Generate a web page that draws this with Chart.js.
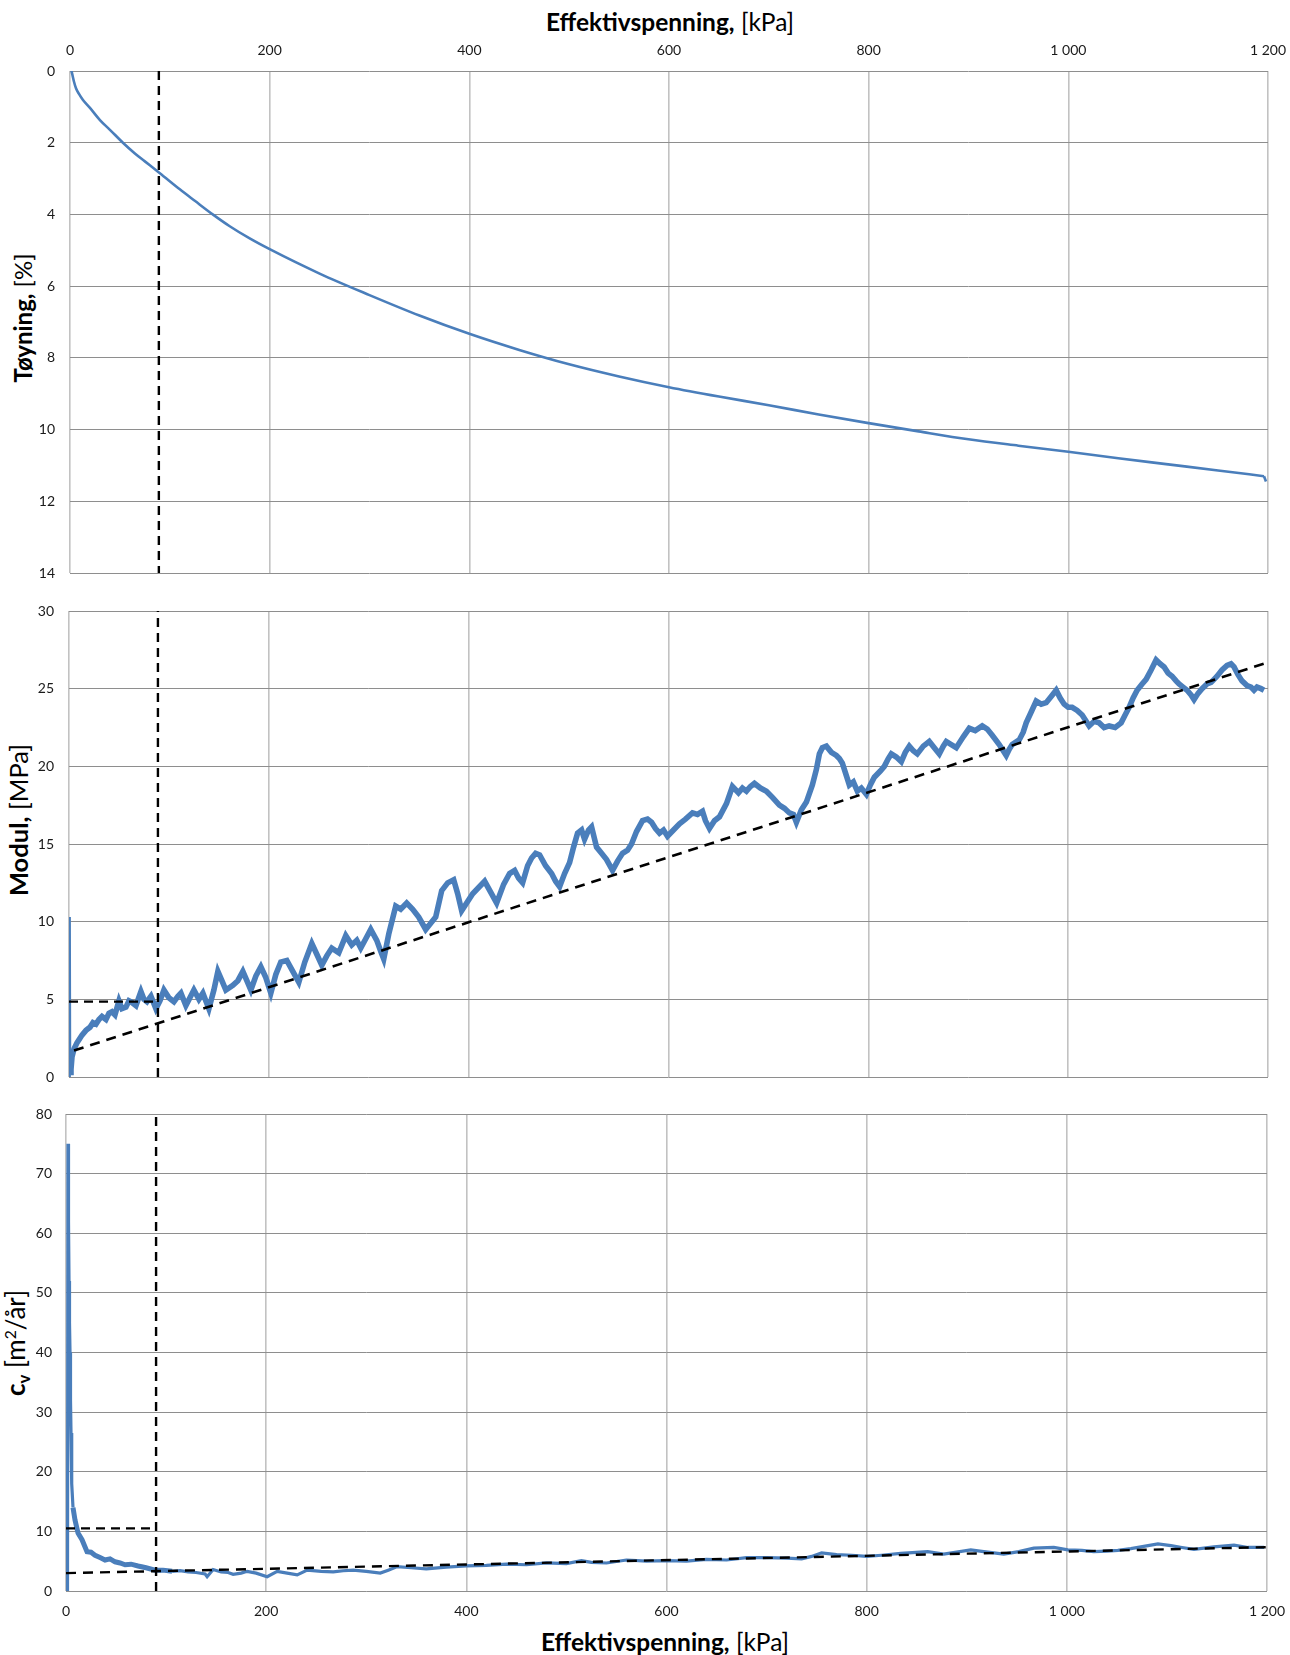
<!DOCTYPE html>
<html>
<head>
<meta charset="utf-8">
<script src="https://cdn.jsdelivr.net/npm/chart.js@4.4.1/dist/chart.umd.min.js"></script>
<style>
  body { margin: 0; background: #fff; font-family: Lato, 'Open Sans', sans-serif; }
  #wrap { position: relative; width: 1290px; height: 1655px; overflow: hidden; }
  canvas { position: absolute; left: 0; }
  .t { position: absolute; white-space: nowrap; color: #000; line-height: 1; font-weight: 400; }
  .t b { font-weight: 700; }
  .rot { transform: translate(-50%, -50%) rotate(-90deg); }
  .hor { transform: translate(-50%, -50%); }
  .t sub { font-size: 65%; vertical-align: -0.3em; font-weight: 700; line-height: 0; }
  .t sup { font-size: 60%; vertical-align: 0.55em; line-height: 0; }
</style>
</head>
<body>
<div id="wrap">
  <div class="t hor" style="left:670px;top:22px;font-size:24.5px"><b>Effektivspenning,</b> [kPa]</div>
  <div class="t rot" style="left:23px;top:318px;font-size:24px"><b>Tøyning,</b> [%]</div>
  <div class="t rot" style="left:19px;top:820px;font-size:25.5px"><b>Modul,</b> [MPa]</div>
  <div class="t rot" style="left:15px;top:1343px;font-size:26px"><b>c<sub>v</sub></b> [m<sup>2</sup>/år]</div>
  <div class="t hor" style="left:665px;top:1642px;font-size:24.5px"><b>Effektivspenning,</b> [kPa]</div>
  <canvas id="c1" width="1290" height="580" style="top:0"></canvas>
  <canvas id="c2" width="1290" height="500" style="top:585px"></canvas>
  <canvas id="c3" width="1290" height="560" style="top:1095px"></canvas>
</div>
<script>
// ---- data ----
var xTickLabels = ['0', '200', '400', '600', '800', '1 000', '1 200'];

// Tøyning [%] vs effektivspenning [kPa]
var strainX = [1.5, 2.5, 4, 6, 9, 13, 20, 30, 40, 53, 65, 75, 90, 110, 125, 144, 160, 180, 200, 250, 300, 350, 400, 450, 500, 550, 600, 650, 700, 750, 800, 850, 900, 950, 1000, 1050, 1100, 1150, 1196];
var strainY = [0, 0.12, 0.3, 0.48, 0.64, 0.81, 1.03, 1.37, 1.64, 2.0, 2.3, 2.52, 2.85, 3.3, 3.62, 4.02, 4.33, 4.67, 4.97, 5.65, 6.25, 6.82, 7.33, 7.78, 8.18, 8.52, 8.82, 9.08, 9.32, 9.58, 9.82, 10.05, 10.27, 10.45, 10.62, 10.8, 10.97, 11.14, 11.3];
var strainEndX = [1196, 1198];
var strainEndY = [11.3, 11.45];

// Modul [MPa]
var modulSpikeX = [0.5, 0.9, 1.3];
var modulSpikeY = [0, 10.3, 0.3];
var modulX = [1.3, 2, 3, 5, 8, 10, 13, 17, 21, 24, 27, 30, 33, 37, 40, 43, 46, 50, 53, 57, 60, 63, 67, 72, 75, 78, 82, 87, 91, 95, 100, 105, 109, 112, 117, 121, 125, 130, 134, 140, 145, 149, 153, 157, 164, 169, 174, 178, 182, 187, 192, 197, 202, 207, 212, 218, 224, 230, 236, 243, 248, 253, 258, 263, 270, 277, 283, 288, 292, 297, 302, 308, 312, 315, 320, 327, 332, 338, 344, 350, 357, 362, 367, 373, 379, 385, 389, 393, 398, 404, 410, 416, 422, 428, 435, 441, 446, 450, 454, 459, 463, 467, 471, 477, 483, 487, 491, 496, 501, 505, 509, 513, 516, 520, 523, 528, 533, 538, 544, 549, 554, 559, 563, 568, 574, 579, 583, 587, 591, 595, 599, 605, 611, 617, 624, 629, 634, 637, 641, 646, 651, 658, 664, 670, 674, 678, 682, 686, 692, 698, 704, 711, 716, 721, 725, 728, 733, 738, 744, 748, 751, 754, 758, 763, 768, 771, 774, 778, 781, 785, 789, 793, 798, 802, 806, 812, 816, 820, 823, 828, 833, 837, 841, 845, 849, 855, 861, 866, 871, 875, 878, 883, 888, 895, 901, 907, 914, 919, 924, 931, 935, 938, 941, 944, 951, 955, 958, 963, 968, 973, 978, 983, 988, 992, 996, 1000, 1004, 1009, 1014, 1018, 1021, 1026, 1031, 1036, 1041, 1047, 1053, 1057, 1061, 1065, 1069, 1074, 1078, 1083, 1088, 1092, 1096, 1100, 1104, 1108, 1111, 1115, 1119, 1123, 1126, 1130, 1134, 1139, 1143, 1146, 1149, 1154, 1159, 1163, 1166, 1170, 1174, 1179, 1183, 1186, 1189, 1193, 1196];
var modulY = [0.3, 0.5, 1.3, 1.8, 2.2, 2.4, 2.7, 3.0, 3.2, 3.5, 3.4, 3.7, 3.9, 3.7, 4.1, 4.2, 4.0, 4.9, 4.4, 4.5, 4.9, 4.8, 4.6, 5.5, 5.0, 4.85, 5.2, 4.4, 4.9, 5.6, 5.1, 4.85, 5.2, 5.4, 4.6, 5.1, 5.6, 5.0, 5.4, 4.4, 5.6, 6.8, 6.2, 5.6, 5.9, 6.2, 6.8, 6.2, 5.6, 6.5, 7.1, 6.4, 5.4, 6.6, 7.4, 7.5, 6.8, 6.1, 7.4, 8.6, 7.9, 7.2, 7.8, 8.3, 8.0, 9.1, 8.5, 8.8, 8.3, 8.9, 9.5, 8.8, 8.1, 7.6, 9.2, 11.0, 10.8, 11.2, 10.8, 10.3, 9.5, 9.9, 10.3, 12.0, 12.5, 12.7, 11.8, 10.7, 11.2, 11.8, 12.2, 12.6, 11.9, 11.2, 12.4, 13.1, 13.3, 12.8, 12.5, 13.6, 14.1, 14.4, 14.3, 13.6, 13.1, 12.6, 12.25, 13.1, 13.8, 14.8, 15.7, 15.9, 15.3, 15.9, 16.1, 14.8, 14.4, 14.0, 13.3, 13.9, 14.4, 14.6, 15.0, 15.8, 16.5, 16.6, 16.4, 16.0, 15.7, 15.9, 15.5, 15.9, 16.3, 16.6, 17.0, 16.9, 17.1, 16.5, 16.0, 16.5, 16.75, 17.6, 18.7, 18.3, 18.6, 18.4, 18.7, 18.9, 18.6, 18.4, 18.0, 17.5, 17.3, 17.0, 16.9, 16.4, 17.2, 17.7, 18.8, 19.8, 20.8, 21.2, 21.3, 20.9, 20.7, 20.5, 20.2, 19.4, 18.8, 19.0, 18.4, 18.6, 18.2, 18.8, 19.3, 19.7, 20.0, 20.5, 20.8, 20.6, 20.3, 20.9, 21.3, 21.0, 20.8, 21.3, 21.6, 21.2, 20.8, 21.3, 21.6, 21.4, 21.2, 21.9, 22.45, 22.3, 22.6, 22.4, 22.0, 21.4, 21.0, 20.7, 21.1, 21.4, 21.7, 22.2, 22.8, 23.5, 24.2, 24.0, 24.1, 24.5, 24.9, 24.4, 24.0, 23.8, 23.8, 23.6, 23.3, 22.9, 22.6, 22.9, 22.8, 22.5, 22.6, 22.5, 22.8, 23.3, 23.8, 24.4, 24.9, 25.3, 25.6, 26.2, 26.85, 26.6, 26.4, 26.0, 25.8, 25.5, 25.3, 25.1, 24.9, 24.6, 24.3, 24.7, 25.0, 25.3, 25.4, 25.6, 25.8, 26.2, 26.5, 26.6, 26.4, 25.9, 25.5, 25.2, 25.1, 24.9, 25.1, 25.0, 24.9];
var modulTrendX = [5, 1200];
var modulTrendY = [1.7, 26.7];
var modulLevelX = [0, 90];
var modulLevelY = [4.85, 4.85];

// cv [m2/år]
var cvX = [0, 1.5, 2, 2.5, 3, 3.5, 4, 4.5, 5, 5.7, 7, 9, 12, 16, 21, 25, 29, 34, 39, 44, 49, 54, 59, 65, 72, 80, 89, 97, 106, 114, 122, 130, 139, 141, 147, 155, 162, 167, 175, 181, 190, 201, 211, 221, 231, 241, 255, 267, 277, 287, 300, 314, 322, 331, 345, 360, 380, 400, 420, 440, 460, 480, 500, 515, 525, 540, 560, 580, 600, 620, 640, 660, 680, 700, 720, 735, 745, 755, 770, 785, 800, 815, 834, 861, 877, 904, 917, 937, 952, 967, 987, 1001, 1015, 1027, 1040, 1051, 1064, 1074, 1091, 1104, 1115, 1127, 1137, 1147, 1167, 1181, 1197];
var cvY = [0, 0, 75, 62, 52, 45, 40, 32, 26.5, 18, 14, 11.9, 9.7, 8.6, 6.6, 6.5, 6.0, 5.6, 5.2, 5.4, 4.9, 4.7, 4.4, 4.5, 4.2, 3.9, 3.5, 3.5, 3.3, 3.4, 3.2, 3.1, 2.85, 2.4, 3.6, 3.2, 3.1, 2.8, 3.0, 3.3, 3.0, 2.4, 3.3, 3.0, 2.7, 3.5, 3.3, 3.2, 3.4, 3.5, 3.3, 3.0, 3.5, 4.1, 3.9, 3.7, 4.0, 4.2, 4.3, 4.5, 4.4, 4.7, 4.6, 5.1, 4.8, 4.7, 5.2, 5.0, 5.1, 5.0, 5.3, 5.2, 5.6, 5.6, 5.5, 5.4, 5.8, 6.4, 6.1, 6.0, 5.8, 6.0, 6.3, 6.6, 6.2, 6.9, 6.6, 6.2, 6.6, 7.2, 7.3, 6.9, 6.8, 6.6, 6.7, 6.8, 7.1, 7.4, 7.9, 7.6, 7.3, 7.0, 7.2, 7.4, 7.7, 7.3, 7.3];
var cvTrendX = [0, 1200];
var cvTrendY = [3.0, 7.35];
var cvLevelX = [0, 90];
var cvLevelY = [10.5, 10.5];

// vertical marker (~90 kPa)
var markX = [89, 89];

var BLUE = '#4a7ebb', DASH = '#000000';

function pts(xs, ys) { return xs.map(function (x, i) { return { x: x, y: ys[i] }; }); }
function ser(xs, ys, color, w, dash, order) {
  return { data: pts(xs, ys), showLine: true, borderColor: color, backgroundColor: color, borderWidth: w,
    borderDash: dash || [], pointRadius: 0, pointHoverRadius: 0, fill: false, tension: 0, order: order };
}
function fixW(w) { return function (s) { s.width = w; s.paddingTop = 0; s.paddingBottom = 0; }; }
function fixH(h) { return function (s) { s.height = h; s.paddingLeft = 0; s.paddingRight = 0; }; }

var tickFont = { family: 'Lato, "Open Sans", sans-serif', size: 14 };

function xScale(pos, show, h) {
  return {
    type: 'linear', position: pos, min: 0, max: 1200, afterFit: fixH(h),
    grid: { color: '#c2c2c2', lineWidth: 1.6, drawTicks: false },
    border: { display: false },
    ticks: { display: show, stepSize: 200, padding: 12, color: '#1a1a1a', font: tickFont, maxRotation: 0,
      callback: function (v) { return xTickLabels[Math.round(v / 200)]; } }
  };
}
function yScale(max, step, w, pad, rev) {
  return {
    type: 'linear', min: 0, max: max, reverse: !!rev, afterFit: fixW(w),
    grid: { color: '#8e8e8e', lineWidth: 1, drawTicks: false },
    border: { display: false },
    ticks: { stepSize: step, padding: pad, color: '#1a1a1a', font: tickFont }
  };
}
function opts(pad, x, y) {
  return { responsive: false, animation: false, events: [], layout: { padding: pad },
    plugins: { legend: { display: false }, tooltip: { enabled: false } },
    scales: { x: x, y: y } };
}

var strainSer = ser(strainX, strainY, BLUE, 2.6, null, 1);
strainSer.cubicInterpolationMode = 'monotone';

new Chart(document.getElementById('c1'), {
  type: 'scatter',
  data: { datasets: [
    ser(markX, [0, 14], DASH, 2.4, [9, 6], 0),
    strainSer,
    ser(strainEndX, strainEndY, BLUE, 2.6, null, 1)
  ] },
  options: opts({ left: 0, right: 22, top: 0, bottom: 7 }, xScale('top', true, 71), yScale(14, 2, 70, 15, true))
});

new Chart(document.getElementById('c2'), {
  type: 'scatter',
  data: { datasets: [
    ser(markX, [0, 30], DASH, 2.4, [9, 6], 0),
    ser(modulLevelX, modulLevelY, DASH, 2.4, [9, 6], 0),
    ser(modulTrendX, modulTrendY, DASH, 2.6, [10, 7], 0),
    ser(modulSpikeX, modulSpikeY, BLUE, 2, null, 2),
    ser(modulX, modulY, BLUE, 5.6, null, 1)
  ] },
  options: opts({ left: 0, right: 22, top: 26, bottom: 8 }, xScale('bottom', false, 0), yScale(30, 5, 69, 15))
});

var cvSer = ser(cvX, cvY, BLUE, 3.2, null, 1);
// the early, noisy stretch reads as a wider band
cvSer.segment = { borderWidth: function (c) { return (c.p0.parsed.x >= 7 && c.p1.parsed.x <= 110) ? 5 : 3.2; } };

new Chart(document.getElementById('c3'), {
  type: 'scatter',
  data: { datasets: [
    ser([90, 90], [0, 80], DASH, 2.4, [9, 6], 0),
    ser(cvLevelX, cvLevelY, DASH, 2.4, [9, 6], 0),
    ser(cvTrendX, cvTrendY, DASH, 2.4, [10, 7], 0),
    cvSer
  ] },
  options: opts({ left: 0, right: 23, top: 19, bottom: 0 }, xScale('bottom', true, 64), yScale(80, 10, 66, 14))
});
</script>
</body>
</html>
